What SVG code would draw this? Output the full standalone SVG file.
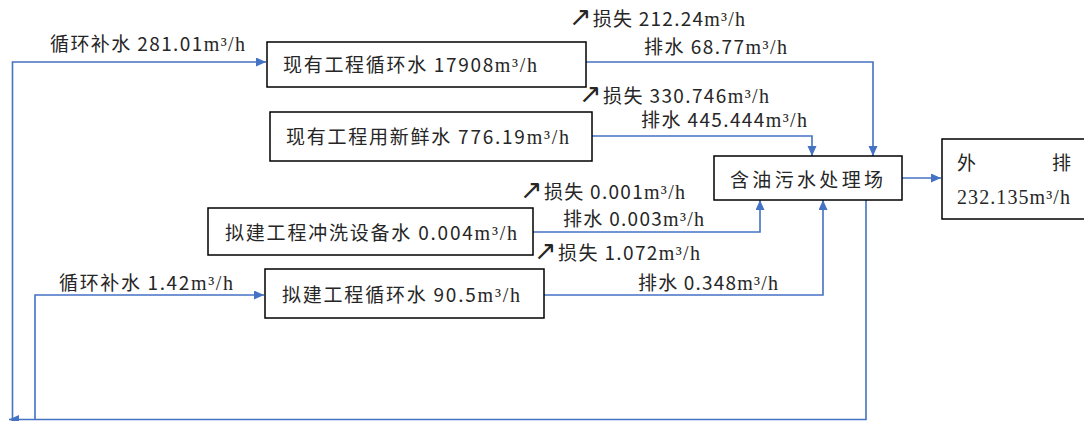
<svg xmlns="http://www.w3.org/2000/svg" width="1084" height="421" viewBox="0 0 1084 421">
<style>
.box{fill:#fff;stroke:#000;stroke-width:1.5}
.t{font-family:"Noto Sans CJK SC","Noto Sans",sans-serif;font-size:19px;fill:#262626}
.s{font-family:"Liberation Serif",serif;font-size:20px}
.a{font-family:"DejaVu Sans",sans-serif;font-size:27px}
.ln{fill:none;stroke:#4472C4;stroke-width:1.6}
</style>
<defs>
<marker id="ah" markerUnits="userSpaceOnUse" markerWidth="12" markerHeight="12" refX="10" refY="4.5" orient="auto">
<path d="M0,0 L10,4.5 L0,9 z" fill="#4472C4"/>
</marker>
</defs>
<rect width="1084" height="421" fill="#fff"/>
<g id="connectors">
<path class="ln" d="M866,200 V419.5 H9" marker-end="url(#ah)"/>
<path class="ln" d="M12.5,419.5 V62 H266" marker-end="url(#ah)"/>
<path class="ln" d="M35,419.5 V295 H264" marker-end="url(#ah)"/>
<path class="ln" d="M586,62 H873 V156" marker-end="url(#ah)"/>
<path class="ln" d="M592,136 H812 V156" marker-end="url(#ah)"/>
<path class="ln" d="M533,232 H760 V200" marker-end="url(#ah)"/>
<path class="ln" d="M544,295 H823 V200" marker-end="url(#ah)"/>
<path class="ln" d="M902,178 H941" marker-end="url(#ah)"/>
</g>
<g id="labels">
<text class="t" x="50" y="51" textLength="195" lengthAdjust="spacing">循环补水 281.01<tspan class="s">m³/h</tspan></text>
<text class="t" x="569" y="26" textLength="176" lengthAdjust="spacing"><tspan class="a">↗</tspan>损失 212.24<tspan class="s">m³/h</tspan></text>
<text class="t" x="644" y="54" textLength="143" lengthAdjust="spacing">排水 68.77<tspan class="s">m³/h</tspan></text>
<text class="t" x="579" y="103" textLength="190" lengthAdjust="spacing"><tspan class="a">↗</tspan>损失 330.746<tspan class="s">m³/h</tspan></text>
<text class="t" x="641" y="127" textLength="166" lengthAdjust="spacing">排水 445.444<tspan class="s">m³/h</tspan></text>
<text class="t" x="520" y="199" textLength="165" lengthAdjust="spacing"><tspan class="a">↗</tspan>损失 0.001<tspan class="s">m³/h</tspan></text>
<text class="t" x="563" y="226" textLength="141" lengthAdjust="spacing">排水 0.003<tspan class="s">m³/h</tspan></text>
<text class="t" x="534" y="260" textLength="166" lengthAdjust="spacing"><tspan class="a">↗</tspan>损失 1.072<tspan class="s">m³/h</tspan></text>
<text class="t" x="59" y="290" textLength="174" lengthAdjust="spacing">循环补水 1.42<tspan class="s">m³/h</tspan></text>
<text class="t" x="638" y="290" textLength="140" lengthAdjust="spacing">排水 0.348<tspan class="s">m³/h</tspan></text>
</g>
<g id="n1">
<rect class="box" x="267" y="42" width="319" height="45"/>
<text class="t" x="283" y="72" textLength="254" lengthAdjust="spacing">现有工程循环水 17908<tspan class="s">m³/h</tspan></text>
</g>
<g id="n2">
<rect class="box" x="270" y="112" width="322" height="49"/>
<text class="t" x="286" y="144" textLength="283" lengthAdjust="spacing">现有工程用新鲜水 776.19<tspan class="s">m³/h</tspan></text>
</g>
<g id="n3">
<rect class="box" x="714" y="156" width="188" height="44"/>
<text class="t" x="730" y="187" textLength="153" lengthAdjust="spacing">含油污水处理场</text>
</g>
<g id="n4">
<rect class="box" x="942" y="139" width="150" height="80"/>
<text class="t" x="957" y="170">外</text>
<text class="t" x="1071" y="170" text-anchor="end">排</text>
<text class="t s" x="957" y="204" textLength="113" lengthAdjust="spacing">232.135m³/h</text>
</g>
<g id="n5">
<rect class="box" x="208" y="208" width="325" height="47"/>
<text class="t" x="225" y="240" textLength="292" lengthAdjust="spacing">拟建工程冲洗设备水 0.004<tspan class="s">m³/h</tspan></text>
</g>
<g id="n6">
<rect class="box" x="265" y="269" width="279" height="49"/>
<text class="t" x="282" y="302" textLength="238" lengthAdjust="spacing">拟建工程循环水 90.5<tspan class="s">m³/h</tspan></text>
</g>
</svg>
